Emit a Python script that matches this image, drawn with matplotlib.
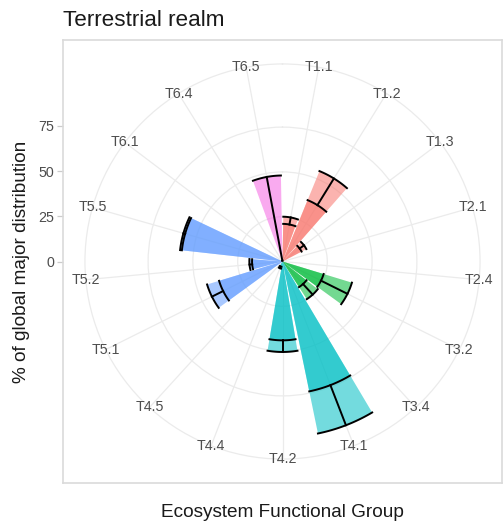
import numpy as np
import matplotlib
matplotlib.use("Agg")
import matplotlib.pyplot as plt

plt.rcParams['font.family'] = ['Liberation Sans', 'DejaVu Sans']

# ecosystem functional groups, clockwise from the top
groups = ['T1.1', 'T1.2', 'T1.3', 'T2.1', 'T2.4', 'T3.2', 'T3.4', 'T4.1', 'T4.2',
          'T4.4', 'T4.5', 'T5.1', 'T5.2', 'T5.5', 'T6.1', 'T6.4', 'T6.5']
# % of global major distribution: lower and upper estimate
low = [21, 37, 12, np.nan, np.nan, 24, 17, 74, 44,
       3, np.nan, 37, 17, 56.5, np.nan, np.nan, 0.5]
high = [25, 54.5, 15, np.nan, np.nan, 40.5, 25, 98, 50.5,
        4, np.nan, 44, 18.5, 57.5, np.nan, np.nan, 48]
rbreaks = [0, 25, 50, 75]

biome_colors = {'T1': '#F8766D', 'T2': '#B79F00', 'T3': '#00BA38',
                'T4': '#00BFC4', 'T5': '#619CFF', 'T6': '#F564E3'}

W, H = 504, 523
fig = plt.figure(figsize=(W / 100, H / 100), dpi=100)

# panel in pixels
pl, pr, pt, pb = 63, 502, 40, 483
pw, ph = pr - pl, pb - pt
rmax = np.nanmax(high)

# background panel with the radius axis on the left
ax_bg = fig.add_axes([pl / W, 1 - pb / H, pw / W, ph / H])
ax_bg.set_xlim(-1, 1)
ax_bg.set_ylim(-rmax * 1.25, rmax * 1.25)
ax_bg.set_xticks([])
ax_bg.set_yticks(rbreaks)
ax_bg.set_yticklabels([str(b) for b in rbreaks])
ax_bg.tick_params(axis='y', colors='#CCCCCC', labelcolor='#4D4D4D',
                  labelsize=10.3, length=4, width=0.9, pad=2.5)
for s in ax_bg.spines.values():
    s.set_color('#DADADA')
    s.set_linewidth(1.2)
ax_bg.set_xlabel('Ecosystem Functional Group', fontsize=13.7, color='#1A1A1A',
                 labelpad=15)
ax_bg.set_ylabel('% of global major distribution', fontsize=13.7, color='#1A1A1A',
                 labelpad=6)
ax_bg.set_title('Terrestrial realm', loc='left', fontsize=16.2, color='#1A1A1A',
                pad=10)

# polar panel: outer circle at 0.45 of the panel, data max at 0.4
cx, cy = pl + pw / 2, pt + ph / 2
rad_x, rad_y = 0.45 * pw, 0.45 * ph
ax = fig.add_axes([(cx - rad_x) / W, 1 - (cy + rad_y) / H, 2 * rad_x / W, 2 * rad_y / H],
                  projection='polar')
ax.set_facecolor('none')
ax.set_theta_zero_location('N')
ax.set_theta_direction(-1)
rlim = rmax * 0.45 / 0.4
ax.set_ylim(0, rlim)

n = len(groups)
theta = (np.arange(n) + 0.5) / n * 2 * np.pi
bw = 0.9 * 2 * np.pi / n

ax.set_xticks(theta)
ax.set_xticklabels([])
ax.set_yticks(rbreaks[1:])
ax.set_yticklabels([])
ax.grid(True, color='#EBEBEB', linewidth=0.9)
ax.set_axisbelow(True)
ax.spines['polar'].set_color('#EBEBEB')
ax.spines['polar'].set_linewidth(0.9)
ax.tick_params(length=0)

colors = [biome_colors[g.split('.')[0]] for g in groups]
for t, lo, hi, c in zip(theta, low, high, colors):
    if np.isnan(hi):
        continue
    ax.bar(t, hi, width=bw, color=c, alpha=0.55, linewidth=0, zorder=2)
    ax.bar(t, lo, width=bw, color=c, alpha=0.55, linewidth=0, zorder=2)
    arc = np.linspace(t - bw / 2, t + bw / 2, 40)
    ax.plot([t, t], [lo, hi], color='black', linewidth=1.4, zorder=3)
    ax.plot(arc, np.full_like(arc, lo), color='black', linewidth=1.4, zorder=3)
    ax.plot(arc, np.full_like(arc, hi), color='black', linewidth=1.4, zorder=3)

for t, g in zip(theta, groups):
    ax.text(t, rlim, g, ha='center', va='center', fontsize=10.3, color='#4D4D4D',
            zorder=4)

fig.savefig('out.png', dpi=100)
